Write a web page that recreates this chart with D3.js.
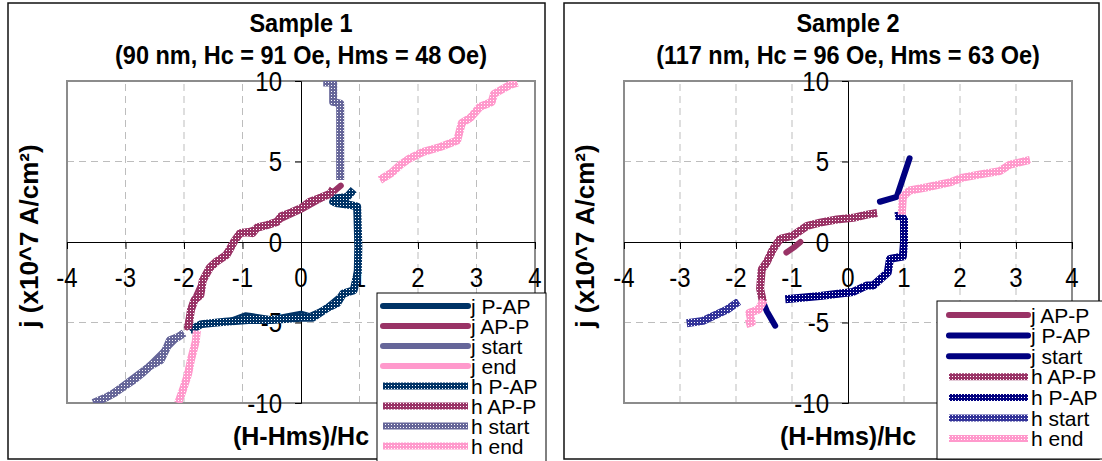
<!DOCTYPE html>
<html>
<head>
<meta charset="utf-8">
<script src="https://cdn.jsdelivr.net/npm/d3@7"></script>
<style>
  body { margin: 0; background: #fff; }
  text { font-family: "Liberation Sans", Arial, sans-serif; }
</style>
</head>
<body>
<div id="chart"></div>
<script>
// axis ticks shared by both samples
var xTicks = [-4, -3, -2, -1, 0, 1, 2, 3, 4];
var yTicks = [-10, -5, 0, 5, 10];
var xLabel = "(H-Hms)/Hc";
var yLabel = "j (x10^7 A/cm²)";

// Sample 1 (x = (H-Hms)/Hc, y = j), null = gap in the trace
var s1Title = ["Sample 1", "(90 nm, Hc = 91 Oe, Hms = 48 Oe)"];
var s1_jPAP = [[-1.85,-5.3],[-1.6,-5.05],[-1.2,-4.9],[-0.95,-4.55],[-0.85,-4.6],[-0.5,-4.8],[0.0,-4.45],[0.15,-4.6],[0.4,-4.2],[0.7,-3.3],[0.9,-3.0],[0.97,-1.5],[0.97,1.5]];
var s1_jAPP = [[-1.95,-5.3],[-1.85,-3.8],[-1.6,-1.8],[-1.3,-0.8],[-1.05,0.5],[-0.6,1.0],[0.0,2.0],[0.3,2.6],[0.55,3.1],[0.68,3.5]];
var s1_jStart = [[-3.3,-9.6],[-2.6,-7.7],[-2.1,-5.9]];
var s1_jEnd = [[-1.8,-6.2],[-1.95,-8.2]];
var s1_hPAP = [[-1.9,-5.5],[-1.7,-5.1],[-1.3,-4.95],[-0.9,-4.85],[-0.5,-4.85],[0.0,-4.7],[0.2,-4.7],[0.45,-4.1],[0.62,-3.8],[0.72,-3.2],[0.9,-3.0],[0.97,-1.9],[0.98,-0.3],[0.97,1.0],[0.96,2.2],[0.84,2.3],[0.63,2.4],[0.55,2.5],[0.58,2.7],[0.79,2.8],[0.9,3.25]];
var s1_hAPP = [[-1.93,-5.4],[-1.88,-4.2],[-1.82,-3.6],[-1.72,-3.3],[-1.68,-2.4],[-1.56,-1.6],[-1.44,-1.2],[-1.27,-0.8],[-1.15,0.0],[-1.04,0.55],[-0.93,0.6],[-0.83,0.55],[-0.75,0.9],[-0.58,1.05],[-0.41,1.25],[-0.34,1.6],[-0.19,1.8],[0.0,2.1],[0.15,2.5],[0.3,2.7],[0.5,3.0],[0.55,3.3]];
var s1_hStart = [[-3.55,-10],[-3.3,-9.6],[-3.2,-9.4],[-3.0,-8.9],[-2.87,-8.6],[-2.7,-8.1],[-2.58,-7.7],[-2.4,-7.35],[-2.3,-6.6],[-2.24,-6.1],[-2.1,-5.9],[-2.0,-5.65],null,[0.67,3.85],[0.67,6.0],[0.67,8.6],[0.55,8.7],[0.55,9.9],[0.38,9.9]];
var s1_hEnd = [[-1.78,-5.5],[-1.8,-6.2],[-1.88,-7.3],[-1.93,-8.2],[-2.02,-9.2],[-2.1,-10],null,[1.35,3.85],[1.55,4.3],[1.7,4.8],[1.86,5.2],[2.09,5.6],[2.38,5.9],[2.67,6.3],[2.75,7.4],[2.89,7.7],[3.06,8.4],[3.26,8.7],[3.3,9.2],[3.57,9.75],[3.7,9.9]];

// Sample 2
var s2Title = ["Sample 2", "(117 nm, Hc = 96 Oe, Hms = 63 Oe)"];
var s2_jAPP = [[-1.1,-0.65],[-0.95,-0.3],[-0.85,0.0]];
var s2_jPAP = [[-1.52,-3.7],[-1.45,-4.3],[-1.3,-5.2]];
var s2_jStart = [[0.57,2.5],[0.87,2.8],[1.1,5.2]];
var s2_hAPP = [[-1.52,-3.7],[-1.57,-2.9],[-1.54,-1.7],[-1.45,-1.25],[-1.34,-0.45],[-1.21,0.2],[-0.98,0.4],[-0.73,1.0],[-0.5,1.2],[-0.2,1.4],[0.09,1.5],[0.34,1.7],[0.52,1.8]];
var s2_hPAP = [[-1.12,-3.55],[-0.5,-3.35],[-0.14,-3.2],[0.09,-3.1],[0.34,-2.7],[0.45,-2.7],[0.61,-2.2],[0.71,-1.9],[0.75,-1.05],[0.98,-0.9],[1.0,0.0],[1.0,1.4],[0.95,1.65],[0.84,1.6]];
var s2_hStart = [[-2.88,-5.05],[-2.59,-4.9],[-2.41,-4.6],[-2.16,-4.2],[-1.95,-3.7]];
var s2_hEnd = [[-1.82,-5.1],[-1.72,-5.0],[-1.76,-4.4],[-1.6,-4.2],[-1.5,-3.6],null,[0.96,1.7],[0.98,2.8],[1.1,3.2],[1.41,3.4],[1.82,3.7],[2.05,4.0],[2.36,4.2],[2.71,4.4],[2.89,4.8],[3.25,5.1]];

var W = 1102, H = 461;
var svg = d3.select("#chart").append("svg")
    .attr("width", W)
    .attr("height", H)
    .style("display", "block");
svg.append("rect").attr("width", W).attr("height", H).attr("fill", "#fff");
var defs = svg.append("defs");

// Excel style "dotted" thick lines: colour with a grid of white dots
function dotPattern(color) {
    var id = "dot" + color.replace("#", "");
    if (!defs.select("#" + id).empty()) return "url(#" + id + ")";
    var p = defs.append("pattern")
        .attr("id", id)
        .attr("patternUnits", "userSpaceOnUse")
        .attr("width", 3).attr("height", 3);
    p.append("rect").attr("width", 3).attr("height", 3).attr("fill", color);
    p.append("rect").attr("x", 1).attr("y", 1).attr("width", 1).attr("height", 1).attr("fill", "#fff");
    return "url(#" + id + ")";
}

// text in the original is a little taller than wide
function stretched(px, py, k) {
    return "translate(" + px + "," + py + ") scale(1," + k + ")";
}

function drawPanel(cfg) {
    var g = svg.append("g");

    // outer chart frame
    g.append("rect")
        .attr("x", cfg.box[0]).attr("y", cfg.box[1])
        .attr("width", cfg.box[2]).attr("height", cfg.box[3])
        .attr("fill", "#fff").attr("stroke", "#111").attr("stroke-width", 1.5);

    var x = d3.scaleLinear().domain([-4, 4]).range([cfg.plot[0], cfg.plot[1]]);
    var y = d3.scaleLinear().domain([-10, 10]).range([cfg.plot[3], cfg.plot[2]]);

    // dashed grid
    g.selectAll(".gx").data(xTicks.filter(d => d != 0 && Math.abs(d) != 4)).enter()
        .append("line")
        .attr("x1", d => x(d)).attr("x2", d => x(d))
        .attr("y1", y(-10)).attr("y2", y(10))
        .attr("stroke", "#bdbdbd").attr("stroke-dasharray", "7,5");
    g.selectAll(".gy").data(yTicks.filter(d => d != 0 && Math.abs(d) != 10)).enter()
        .append("line")
        .attr("x1", x(-4)).attr("x2", x(4))
        .attr("y1", d => y(d)).attr("y2", d => y(d))
        .attr("stroke", "#bdbdbd").attr("stroke-dasharray", "7,5");

    // plot area border
    g.append("rect")
        .attr("x", x(-4)).attr("y", y(10))
        .attr("width", x(4) - x(-4)).attr("height", y(-10) - y(10))
        .attr("fill", "none").attr("stroke", "#8c8c8c").attr("stroke-width", 2);

    // axes through the origin
    var xAxis = d3.axisBottom(x).tickValues(xTicks).tickSize(7).tickFormat("");
    g.append("g").attr("transform", "translate(0," + y(0) + ")").call(xAxis)
        .call(a => a.select(".domain").attr("stroke", "#000"));
    var yAxis = d3.axisLeft(y).tickValues(yTicks).tickSize(6).tickFormat("");
    g.append("g").attr("transform", "translate(" + x(0) + ",0)").call(yAxis)
        .call(a => a.select(".domain").attr("stroke", "#000"));

    // tick labels
    g.selectAll(".xl").data(xTicks).enter().append("text")
        .attr("transform", d => stretched(x(d), y(0) + 45, 1.14))
        .attr("text-anchor", "middle").style("font-size", "24px")
        .text(d => d);
    g.selectAll(".yl").data(yTicks).enter().append("text")
        .attr("transform", d => stretched(x(0) - 19, y(d) + 9.5, 1.14))
        .attr("text-anchor", "end").style("font-size", "24px")
        .text(d => d);

    // series
    var clipId = "clip" + cfg.id;
    defs.append("clipPath").attr("id", clipId).append("rect")
        .attr("x", x(-4)).attr("y", y(10))
        .attr("width", x(4) - x(-4)).attr("height", y(-10) - y(10));
    var line = d3.line()
        .defined(d => d != null)
        .x(d => x(d[0])).y(d => y(d[1]));
    var sg = g.append("g").attr("clip-path", "url(#" + clipId + ")");
    cfg.series.forEach(function(s) {
        sg.append("path")
            .datum(s.data)
            .attr("d", line)
            .attr("fill", "none")
            .attr("stroke", s.dotted ? dotPattern(s.color) : s.color)
            .attr("stroke-width", s.dotted ? 8 : 6)
            .attr("stroke-linecap", s.dotted ? "butt" : "round")
            .attr("stroke-linejoin", "round");
    });

    // titles
    var cx = (cfg.plot[0] + cfg.plot[1]) / 2;
    g.selectAll(".title").data(cfg.title).enter().append("text")
        .attr("transform", (d, i) => stretched(cx, 32 + i * 32, 1.08))
        .attr("text-anchor", "middle")
        .style("font-size", "23.5px").style("font-weight", "bold")
        .text(d => d);
    g.append("text")
        .attr("x", cx).attr("y", 445)
        .attr("text-anchor", "middle")
        .style("font-size", "25px").style("font-weight", "bold")
        .text(xLabel);
    g.append("text")
        .attr("transform", "translate(" + (cfg.box[0] + 30) + "," + ((y(10) + y(-10)) / 2 - 6) + ") rotate(-90)")
        .attr("text-anchor", "middle")
        .style("font-size", "26px").style("font-weight", "bold")
        .text(yLabel);

    // legend
    var L = cfg.legend;
    var lg = g.append("g");
    lg.append("rect")
        .attr("x", L.x).attr("y", L.y).attr("width", L.w).attr("height", L.h)
        .attr("fill", "#fff").attr("stroke", "#000").attr("stroke-width", 1);
    cfg.series.forEach(function(s, i) {
        var ry = L.row0 + i * L.step;
        lg.append("line")
            .attr("x1", L.lx0).attr("x2", L.lx1)
            .attr("y1", ry).attr("y2", ry)
            .attr("stroke", s.dotted ? dotPattern(s.color) : s.color)
            .attr("stroke-width", s.dotted ? 7 : 6)
            .attr("stroke-linecap", s.dotted ? "butt" : "round");
        lg.append("text")
            .attr("x", L.lx1 + 3).attr("y", ry).attr("dy", "0.36em")
            .style("font-size", "21px")
            .text(s.name);
    });
}

drawPanel({
    id: 1,
    box: [8, 3, 537, 456],
    plot: [67, 535, 81, 403],
    title: s1Title,
    legend: {x: 377, y: 293, w: 169, h: 172, row0: 306, step: 20, lx0: 383, lx1: 468},
    series: [
        {name: "j P-AP", color: "#003366", data: s1_jPAP},
        {name: "j AP-P", color: "#993366", data: s1_jAPP},
        {name: "j start", color: "#666699", data: s1_jStart},
        {name: "j end", color: "#ff99cc", data: s1_jEnd},
        {name: "h P-AP", color: "#003366", dotted: true, data: s1_hPAP},
        {name: "h AP-P", color: "#993366", dotted: true, data: s1_hAPP},
        {name: "h start", color: "#666699", dotted: true, data: s1_hStart},
        {name: "h end", color: "#ff99cc", dotted: true, data: s1_hEnd}
    ]
});

drawPanel({
    id: 2,
    box: [564, 3, 535, 456],
    plot: [624, 1072, 81, 403],
    title: s2Title,
    legend: {x: 937, y: 301, w: 170, h: 158, row0: 315, step: 20.6, lx0: 949, lx1: 1028},
    series: [
        {name: "j AP-P", color: "#993366", data: s2_jAPP},
        {name: "j P-AP", color: "#000080", data: s2_jPAP},
        {name: "j start", color: "#000080", data: s2_jStart},
        {name: "h AP-P", color: "#993366", dotted: true, data: s2_hAPP},
        {name: "h P-AP", color: "#000080", dotted: true, data: s2_hPAP},
        {name: "h start", color: "#333399", dotted: true, data: s2_hStart},
        {name: "h end", color: "#ff99cc", dotted: true, data: s2_hEnd}
    ]
});
</script>
</body>
</html>
